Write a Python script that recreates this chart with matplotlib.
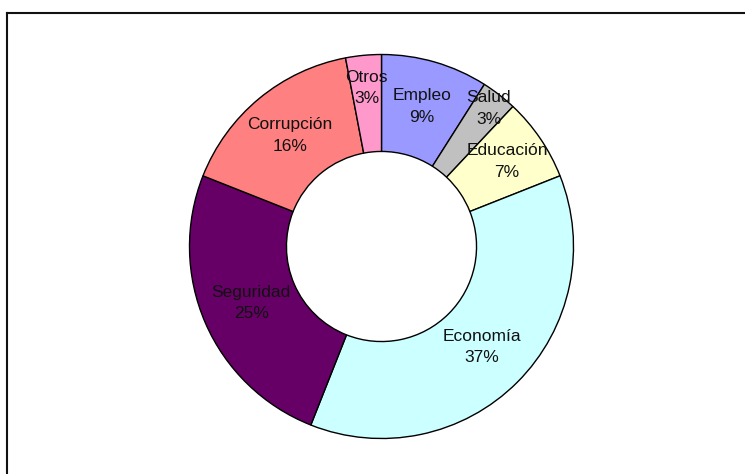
import numpy as np
import matplotlib.pyplot as plt
from matplotlib.lines import Line2D

# data (clockwise from 12 o'clock)
categories = ['Empleo', 'Salud', 'Educación', 'Economía', 'Seguridad', 'Corrupción', 'Otros']
values = [9, 3, 7, 37, 25, 16, 3]
colors = ['#9999FF', '#C0C0C0', '#FFFFCC', '#CCFFFF', '#660066', '#FF8080', '#FF99CC']
# how far out each label sits, as a fraction of the outer radius
label_dist = [0.76, 0.91, 0.79, 0.74, 0.74, 0.75, 0.83]

W, H = 745, 474
plt.rcParams['font.family'] = ['Liberation Sans', 'DejaVu Sans']

fig = plt.figure(figsize=(W / 100, H / 100), dpi=100)
ax = fig.add_axes([0, 0, 1, 1])

cx, cy, R = 381.5, H - 246.5, 192

labels = ['%s\n%d%%' % (c, v) for c, v in zip(categories, values)]
wedges, texts = ax.pie(values, colors=colors, startangle=90, counterclock=False,
                       center=(cx, cy), radius=R, labels=labels, labeldistance=0.75,
                       wedgeprops=dict(width=R * 0.505, edgecolor='black', linewidth=1.0),
                       textprops=dict(fontsize=12.5, color='#111111'))

for w, t, d in zip(wedges, texts, label_dist):
    ang = np.deg2rad((w.theta1 + w.theta2) / 2)
    t.set_position((cx + R * d * np.cos(ang), cy + R * d * np.sin(ang)))
    t.set_horizontalalignment('center')
    t.set_verticalalignment('center')
    t.set_multialignment('center')
    t.set_linespacing(1.55)

ax.set_xlim(0, W)
ax.set_ylim(0, H)
ax.set_aspect('equal')
ax.axis('off')

# chart-area border (left and top edges visible in the crop)
fig.add_artist(Line2D([7.5 / W, 7.5 / W], [0, 1 - 12.5 / H], transform=fig.transFigure,
                      color='#111111', linewidth=1.5))
fig.add_artist(Line2D([7.5 / W, 1], [1 - 12.5 / H, 1 - 12.5 / H], transform=fig.transFigure,
                      color='#111111', linewidth=1.5))

fig.savefig('out.png', dpi=100, facecolor='white')
